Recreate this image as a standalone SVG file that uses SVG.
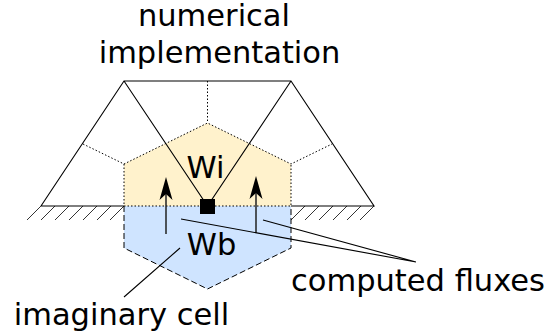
<svg xmlns="http://www.w3.org/2000/svg" width="553" height="335" viewBox="0 0 553 335">
<style>
text{font-family:"DejaVu Sans",sans-serif;fill:#000;font-size:30.500px}
.s{fill:none;stroke:#000;stroke-width:1.1}
.d{fill:none;stroke:#000;stroke-width:1;stroke-dasharray:1.5 2}
.k{fill:none;stroke:#000;stroke-width:1;stroke-dasharray:6 3}
.a{fill:none;stroke:#222;stroke-width:1.5}
.t{fill:none;stroke:#000;stroke-width:.8}
</style>
<defs><path id="head" d="M0 0L6.500 23L0 17L-6.500 23Z" fill="#000"/></defs>
<g id="cell-wi"><path d="M124 164L207.500 123L291 164V206H124Z" fill="#fff2cc"/></g>
<g id="cell-wb"><path d="M124 206H291V248L207.500 289L124 248Z" fill="#cfe4ff"/></g>
<g id="mesh">
<path class="t" d="M41 206L27 220M55 206L41 220M69 206L55 220M83 206L69 220M97 206L83 220M111 206L97 220M124 206L110 220M305 206L291 220M319 206L305 220M333 206L319 220M347 206L333 220M361 206L347 220M374 206L360 220"/>
<path class="s" d="M41 206L124 81H291L374 206H291M124 206H41M124 81L207.500 206L291 81"/>
<path class="d" d="M83 144L124 164L207.500 123L291 164L332 144M207.500 81V123M124 164V206H291V164"/>
<path class="k" d="M124 206V248L207.500 289L291 248V206"/>
</g>
<g id="node-square"><rect x="200" y="199" width="15" height="15" fill="#000"/></g>
<g id="connectors">
<path class="a" d="M166 234V190M256 233V190"/>
<use href="#head" x="166" y="177"/><use href="#head" x="256" y="176"/>
<path class="s" d="M181 219L416 262M263 220L416 262M180 248L124 297"/>
</g>
<g id="labels">
<text x="214" y="26" text-anchor="middle">numerical</text>
<text x="219.500" y="63" text-anchor="middle">implementation</text>
<text x="205.500" y="178" text-anchor="middle">Wi</text>
<text x="211.500" y="255" text-anchor="middle">Wb</text>
<text x="418" y="291" text-anchor="middle">computed fluxes</text>
<text x="121.500" y="325" text-anchor="middle">imaginary cell</text>
</g>
</svg>
